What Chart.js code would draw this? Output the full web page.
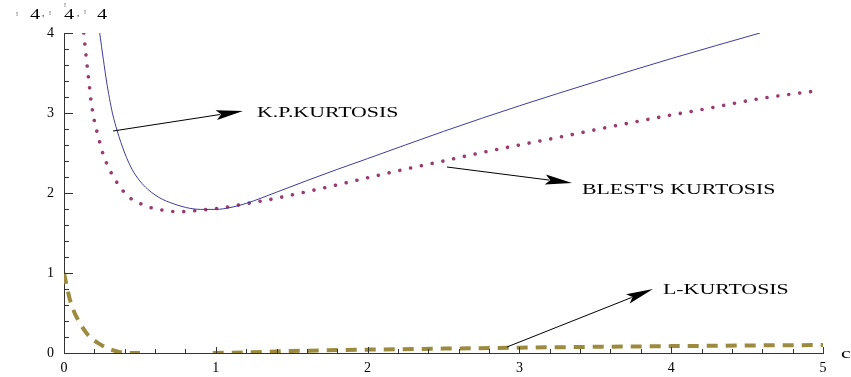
<!DOCTYPE html>
<html>
<head>
<meta charset="utf-8">
<script src="https://cdn.jsdelivr.net/npm/chart.js@4/dist/chart.umd.min.js"></script>
<style>
  html, body { margin: 0; padding: 0; background: #fff; }
  canvas { display: block; }
</style>
</head>
<body>
<canvas id="chart" width="851" height="377"></canvas>
<script>
// K.P. kurtosis (solid line)
const kpC      = [0.235, 0.26, 0.28, 0.30, 0.32, 0.35, 0.40, 0.45, 0.50, 0.55, 0.60, 0.65, 0.70, 0.80, 0.90, 1.00, 1.10, 1.20, 1.40, 1.60, 1.80, 2.00, 2.50, 3.00, 3.50, 4.00, 4.585];
const kpValues = [4.00, 3.66, 3.40, 3.18, 2.99, 2.78, 2.50, 2.29, 2.15, 2.05, 1.975, 1.92, 1.88, 1.82, 1.795, 1.795, 1.82, 1.87, 2.01, 2.155, 2.295, 2.43, 2.77, 3.09, 3.39, 3.68, 4.00];

// Blest's kurtosis (dotted line)
const blestC      = [0.13, 0.145, 0.16, 0.18, 0.20, 0.225, 0.25, 0.27, 0.32, 0.38, 0.42, 0.48, 0.55, 0.61, 0.69, 0.76, 0.84, 0.92, 1.06, 1.21, 1.36, 1.50, 1.75, 2.00, 2.23, 2.50, 2.74, 3.00, 3.27, 3.50, 3.93, 4.25, 4.585, 4.97];
const blestValues = [4.00, 3.72, 3.46, 3.13, 2.90, 2.71, 2.53, 2.42, 2.22, 2.05, 1.96, 1.89, 1.83, 1.80, 1.775, 1.765, 1.775, 1.79, 1.82, 1.87, 1.92, 1.975, 2.08, 2.19, 2.29, 2.40, 2.50, 2.60, 2.70, 2.79, 2.95, 3.06, 3.18, 3.28];

// L-kurtosis (dashed line); null where the curve drops below the plotted range
const lC      = [0, 0.02, 0.04, 0.07, 0.10, 0.14, 0.17, 0.22, 0.27, 0.32, 0.37, 0.42, 0.50, 0.75, 0.98, 1.20, 1.50, 2.00, 2.50, 3.00, 3.50, 4.00, 4.50, 5.00];
const lValues = [1.00, 0.82, 0.66, 0.50, 0.39, 0.27, 0.20, 0.13, 0.075, 0.035, 0.01, 0.0, 0.0, null, 0.0, 0.008, 0.025, 0.042, 0.055, 0.067, 0.077, 0.086, 0.094, 0.10];

const xTickLabels = ['0', '1', '2', '3', '4', '5'];
const yTickLabels = ['0', '1', '2', '3', '4'];

const pts = (xs, ys) => xs.map((c, i) => ({ x: c, y: ys[i] }));

const SERIF = '"Liberation Serif", "Times New Roman", serif';
const STRETCH = 1.56;

// Callout arrows with their captions, anchored in data coordinates
const callouts = [
  { text: 'K.P.KURTOSIS',     from: [0.323, 2.775], to: [1.179, 3.025], at: [1.271, 2.95] },
  { text: "BLEST'S KURTOSIS", from: [2.523, 2.325], to: [3.347, 2.125], at: [3.412, 1.99] },
  { text: 'L-KURTOSIS',       from: [2.918, 0.075], to: [3.880, 0.80],  at: [3.946, 0.74] }
];

function wideText(ctx, str, px, py, size, sx) {
  ctx.save();
  ctx.translate(px, py);
  ctx.scale(sx, 1);
  ctx.font = size + 'px ' + SERIF;
  ctx.textBaseline = 'alphabetic';
  ctx.textAlign = 'left';
  ctx.fillStyle = '#000';
  ctx.fillText(str, 0, 0);
  ctx.restore();
}

function arrow(ctx, x0, y0, x1, y1) {
  const dx = x1 - x0, dy = y1 - y0;
  const len = Math.hypot(dx, dy);
  const ux = dx / len, uy = dy / len;
  const headLen = 27, half = 5;
  const bx = x1 - ux * headLen, by = y1 - uy * headLen;
  ctx.beginPath();
  ctx.moveTo(x0, y0);
  ctx.lineTo(bx + ux * 4, by + uy * 4);
  ctx.strokeStyle = '#000';
  ctx.lineWidth = 1;
  ctx.stroke();
  ctx.beginPath();
  ctx.moveTo(x1, y1);
  ctx.lineTo(bx - uy * half, by + ux * half);
  ctx.lineTo(bx + ux * 5, by + uy * 5);
  ctx.lineTo(bx + uy * half, by - ux * half);
  ctx.closePath();
  ctx.fillStyle = '#000';
  ctx.fill();
}

const decor = {
  id: 'decor',
  afterDraw(chart) {
    const { ctx, chartArea, scales } = chart;
    const xs = scales.x, ys = scales.y;
    ctx.save();

    // inward tick marks, majors every 1 and minors every 0.2
    ctx.strokeStyle = '#333';
    ctx.lineWidth = 1;
    ctx.beginPath();
    for (let i = 0; i <= 25; i++) {
      const px = Math.round(xs.getPixelForValue(i / 5)) + 0.5;
      const len = i % 5 === 0 ? 6 : 4;
      ctx.moveTo(px, chartArea.bottom);
      ctx.lineTo(px, chartArea.bottom - len);
    }
    for (let i = 0; i <= 20; i++) {
      const py = Math.round(ys.getPixelForValue(i / 5)) + 0.5;
      const len = i % 5 === 0 ? 9 : 5;
      ctx.moveTo(chartArea.left, py);
      ctx.lineTo(chartArea.left + len, py);
    }
    ctx.stroke();

    // callouts
    callouts.forEach(c => {
      arrow(ctx,
        xs.getPixelForValue(c.from[0]), ys.getPixelForValue(c.from[1]),
        xs.getPixelForValue(c.to[0]), ys.getPixelForValue(c.to[1]));
      wideText(ctx, c.text, xs.getPixelForValue(c.at[0]), ys.getPixelForValue(c.at[1]), 14, STRETCH);
    });

    // axis names
    wideText(ctx, 'c', chartArea.right + 18, chartArea.bottom + 5, 14, STRETCH);

    const top = 19;
    wideText(ctx, '!', 16, top - 3, 6, 1);
    wideText(ctx, '4', 30, top, 14, 1.45);
    wideText(ctx, ',', 42, top - 3, 9, 1);
    wideText(ctx, '!', 49, top - 4, 6, 1);
    wideText(ctx, '!', 64, top - 12, 6, 1);
    wideText(ctx, '4', 64, top, 14, 1.45);
    wideText(ctx, ',', 77, top - 3, 9, 1);
    wideText(ctx, '!', 84, top - 5, 6, 1);
    wideText(ctx, '4', 97, top, 14, 1.45);

    ctx.restore();
  }
};

new Chart(document.getElementById('chart'), {
  type: 'line',
  data: {
    datasets: [
      {
        label: 'K.P.KURTOSIS',
        data: pts(kpC, kpValues),
        borderColor: '#3d3d9c',
        borderWidth: 1,
        pointRadius: 0,
        cubicInterpolationMode: 'monotone',
        fill: false
      },
      {
        label: "BLEST'S KURTOSIS",
        data: pts(blestC, blestValues),
        borderColor: '#993d70',
        borderWidth: 3.6,
        borderDash: [0.01, 11],
        borderCapStyle: 'round',
        pointRadius: 0,
        cubicInterpolationMode: 'monotone',
        fill: false
      },
      {
        label: 'L-KURTOSIS',
        data: pts(lC, lValues),
        borderColor: '#9c8b3e',
        borderWidth: 4,
        borderDash: [11, 8],
        borderCapStyle: 'butt',
        pointRadius: 0,
        spanGaps: false,
        cubicInterpolationMode: 'monotone',
        fill: false
      }
    ]
  },
  options: {
    responsive: false,
    animation: false,
    devicePixelRatio: 1,
    layout: { padding: { top: 33, right: 28, left: 0, bottom: 0 } },
    plugins: {
      legend: { display: false },
      tooltip: { enabled: false },
      title: { display: false }
    },
    scales: {
      x: {
        type: 'linear',
        min: 0, max: 5,
        grid: { display: false, drawTicks: false },
        border: { display: true, color: '#333', width: 1 },
        ticks: {
          stepSize: 1,
          padding: 7,
          color: '#000',
          font: { family: SERIF, size: 14 },
          callback: (v) => xTickLabels[Math.round(v)] ?? ''
        },
        afterFit: (s) => { s.height = 24; }
      },
      y: {
        type: 'linear',
        min: 0, max: 4,
        grid: { display: false, drawTicks: false },
        border: { display: true, color: '#333', width: 1 },
        ticks: {
          stepSize: 1,
          padding: 10,
          color: '#000',
          font: { family: SERIF, size: 14 },
          callback: (v) => yTickLabels[Math.round(v)] ?? ''
        },
        afterFit: (s) => { s.width = 64; }
      }
    }
  },
  plugins: [decor]
});
</script>
</body>
</html>
